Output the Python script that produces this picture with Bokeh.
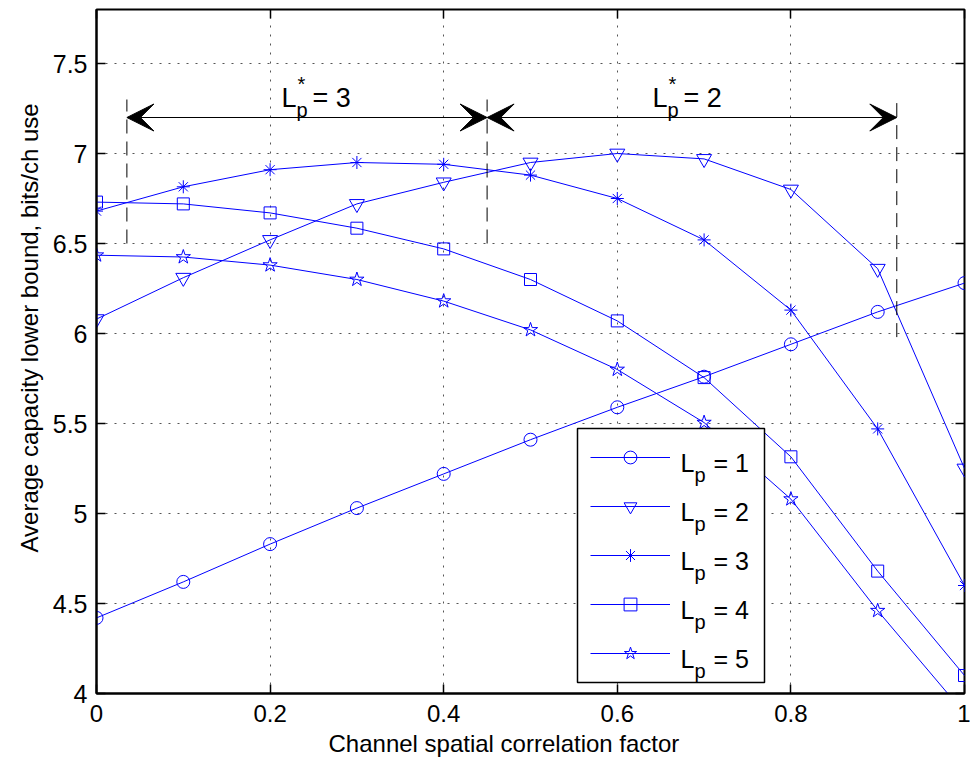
from bokeh.plotting import figure
from bokeh.models import (Range1d, FixedTicker, LinearAxis, Legend, LegendItem,
                          Label, Arrow, VeeHead, Title, BoxAnnotation)
from bokeh.embed import file_html
from bokeh.resources import INLINE

# ---- data -------------------------------------------------------------
# channel spatial correlation factor
rho = [0.0, 0.1, 0.2, 0.3, 0.4, 0.5, 0.6, 0.7, 0.8, 0.9, 1.0]

# average capacity lower bound (bits/ch use) per number of pilot layers Lp
cap_lp1 = [4.42, 4.62, 4.83, 5.03, 5.22, 5.41, 5.59, 5.76, 5.94, 6.12, 6.28]
cap_lp2 = [6.08, 6.31, 6.52, 6.72, 6.84, 6.95, 7.00, 6.97, 6.80, 6.36, 5.25]
cap_lp3 = [6.68, 6.815, 6.91, 6.95, 6.94, 6.88, 6.75, 6.52, 6.13, 5.47, 4.60]
cap_lp4 = [6.73, 6.72, 6.67, 6.585, 6.47, 6.30, 6.07, 5.755, 5.315, 4.68, 4.10]
cap_lp5 = [6.435, 6.425, 6.38, 6.30, 6.18, 6.02, 5.80, 5.505, 5.08, 4.46, 3.89]

lp_values = ["1", "2", "3", "4", "5"]
series = [cap_lp1, cap_lp2, cap_lp3, cap_lp4, cap_lp5]

# optimal-Lp regions along the correlation axis
region_edges = [0.035, 0.45, 0.922]
region_optimum = ["3", "2"]
edge_tops = [7.3, 7.3, 7.3]
edge_bottoms = [6.5, 6.5, 5.98]
arrow_level = 7.2

x_ticks = [0, 0.2, 0.4, 0.6, 0.8, 1]
x_tick_labels = ["0", "0.2", "0.4", "0.6", "0.8", "1"]
y_ticks = [4, 4.5, 5, 5.5, 6, 6.5, 7, 7.5]
y_tick_labels = ["4", "4.5", "5", "5.5", "6", "6.5", "7", "7.5"]

x_title = "Channel spatial correlation factor"
y_title = "Average capacity lower bound, bits/ch use"

# ---- styling ----------------------------------------------------------
FONT = "Liberation Sans"
BLUE = "#0000FF"
MARKERS = ["circle", "inverted_triangle", "asterisk", "square", "star"]
MARKER_SIZES = [13, 15, 13, 12, 15]

W, H = 970, 763
B_LEFT, B_RIGHT, B_TOP, B_BOTTOM = 96, 6, 9, 70
FRAME_W = W - B_LEFT - B_RIGHT
FRAME_H = H - B_TOP - B_BOTTOM
X_MIN, X_MAX = 0.0, 1.0
Y_MIN, Y_MAX = 4.0, 7.8


def dx(px):
    """frame pixel offset (from left) -> data x"""
    return X_MIN + (X_MAX - X_MIN) * px / FRAME_W


def dy(py):
    """frame pixel offset (from bottom) -> data y"""
    return Y_MIN + (Y_MAX - Y_MIN) * py / FRAME_H


p = figure(width=W, height=H,
           x_range=Range1d(X_MIN, X_MAX), y_range=Range1d(Y_MIN, Y_MAX),
           output_backend="svg", toolbar_location=None,
           min_border_left=B_LEFT, min_border_right=B_RIGHT,
           min_border_top=B_TOP, min_border_bottom=B_BOTTOM,
           background_fill_color="white", border_fill_color="white",
           outline_line_color="black", outline_line_width=2)

# axes: ticks pointing inwards, on all four sides
xt = FixedTicker(ticks=x_ticks)
yt = FixedTicker(ticks=y_ticks)
p.xaxis.ticker = xt
p.yaxis.ticker = yt
p.xaxis.major_label_overrides = dict(zip(x_ticks, x_tick_labels))
p.yaxis.major_label_overrides = dict(zip(y_ticks, y_tick_labels))

for ax in (p.xaxis[0], p.yaxis[0]):
    ax.major_tick_in = 9
    ax.major_tick_out = 0
    ax.minor_tick_line_color = None
    ax.axis_line_width = 2
    ax.major_tick_line_width = 1.5
    ax.major_label_text_font = FONT
    ax.major_label_text_color = "black"

p.xaxis.major_label_text_font_size = "24px"
p.xaxis.major_label_standoff = 11
p.yaxis.major_label_text_font_size = "25px"
p.yaxis.major_label_standoff = 9

for ticker, side in ((yt, "right"), (xt, "above")):
    ax = LinearAxis(ticker=ticker, major_tick_in=9, major_tick_out=0,
                    major_tick_line_width=1.5, minor_tick_line_color=None,
                    major_label_text_font_size="0px", major_label_standoff=0,
                    major_label_overrides={t: "" for t in ticker.ticks},
                    axis_line_color=None)
    p.add_layout(ax, side)

# axis titles (start-aligned, shifted along the axis)
p.add_layout(Title(text=x_title, align="left", offset=232, standoff=6,
                   text_font=FONT, text_font_size="24px",
                   text_font_style="normal", text_color="black"), "below")
p.add_layout(Title(text=y_title, align="left", offset=141, standoff=14,
                   text_font=FONT, text_font_size="24px",
                   text_font_style="normal", text_color="black"), "left")

# dotted grid
for g, t in ((p.xgrid[0], xt), (p.ygrid[0], yt)):
    g.ticker = t
    g.grid_line_color = "#555555"
    g.grid_line_dash = "2 7"
    g.grid_line_width = 1

# ---- curves -----------------------------------------------------------
items = []
for vals, mk, ms in zip(series, MARKERS, MARKER_SIZES):
    ln = p.line(rho, vals, line_color=BLUE, line_width=1)
    sc = p.scatter(rho, vals, marker=mk, size=ms, line_color=BLUE,
                   fill_color=None, line_width=1)
    items.append(LegendItem(label=" ", renderers=[ln, sc]))

# ---- region markers (dashed bounds + double arrows) -------------------
p.segment(x0=region_edges, y0=edge_bottoms, x1=region_edges, y1=edge_tops,
          line_color="black", line_width=1, line_dash="14 8")

for i in range(len(region_optimum)):
    p.add_layout(Arrow(
        start=VeeHead(size=27, fill_color="black", line_color="black", line_width=1),
        end=VeeHead(size=27, fill_color="black", line_color="black", line_width=1),
        x_start=region_edges[i], y_start=arrow_level,
        x_end=region_edges[i + 1], y_end=arrow_level,
        line_color="black", line_width=1))

# region captions  L*_p = n
caption_x = [185, 556]       # frame px
caption_base = 596           # frame px from bottom
for cx, n in zip(caption_x, region_optimum):
    common = dict(x=dx(cx), y=dy(caption_base), text_font=FONT,
                  text_color="black", text_baseline="alphabetic",
                  level="overlay")
    p.add_layout(Label(text="L", text_font_size="27px", **common))
    p.add_layout(Label(text="p", text_font_size="20px", x_offset=15,
                       y_offset=-12, **common))
    p.add_layout(Label(text="*", text_font_size="20px", x_offset=20,
                       y_offset=14, text_align="center", **common))
    p.add_layout(Label(text="= " + n, text_font_size="27px", x_offset=31,
                       **common))

# ---- legend -----------------------------------------------------------
LEG_X, LEG_Y = 481, 11
LEG_PAD, GLYPH_W, GLYPH_H, SPACING = 13, 80, 32, 17
LABEL_STANDOFF, LABEL_W = 10, 71
n_items = len(items)
leg_w = 2 * LEG_PAD + GLYPH_W + LABEL_STANDOFF + LABEL_W
leg_h = 2 * LEG_PAD + n_items * GLYPH_H + (n_items - 1) * SPACING

# opaque white box behind the (transparent) legend
p.add_layout(BoxAnnotation(left=dx(LEG_X), right=dx(LEG_X + leg_w),
                           bottom=dy(LEG_Y), top=dy(LEG_Y + leg_h),
                           fill_color="white", fill_alpha=1.0,
                           line_color="black", line_width=1.5, line_alpha=1.0,
                           level="annotation"))

legend = Legend(items=items, location=(LEG_X, LEG_Y),
                padding=LEG_PAD, spacing=SPACING,
                glyph_width=GLYPH_W, glyph_height=GLYPH_H,
                label_standoff=LABEL_STANDOFF, label_width=LABEL_W,
                label_height=GLYPH_H, label_text_font_size="4px",
                border_line_alpha=0, background_fill_alpha=0,
                margin=0)
p.add_layout(legend)

text_x = LEG_X + LEG_PAD + GLYPH_W + LABEL_STANDOFF
for i, n in enumerate(lp_values):
    row_center = LEG_Y + leg_h - LEG_PAD - GLYPH_H / 2 - i * (GLYPH_H + SPACING)
    common = dict(x=dx(text_x), y=dy(row_center - 5), text_font=FONT,
                  text_color="black", text_baseline="alphabetic",
                  level="overlay")
    p.add_layout(Label(text="L", text_font_size="25px", **common))
    p.add_layout(Label(text="p", text_font_size="20px", x_offset=14,
                       y_offset=-12, **common))
    p.add_layout(Label(text="= " + n, text_font_size="25px", x_offset=33,
                       **common))

open("out.html", "w").write(file_html(p, INLINE))
